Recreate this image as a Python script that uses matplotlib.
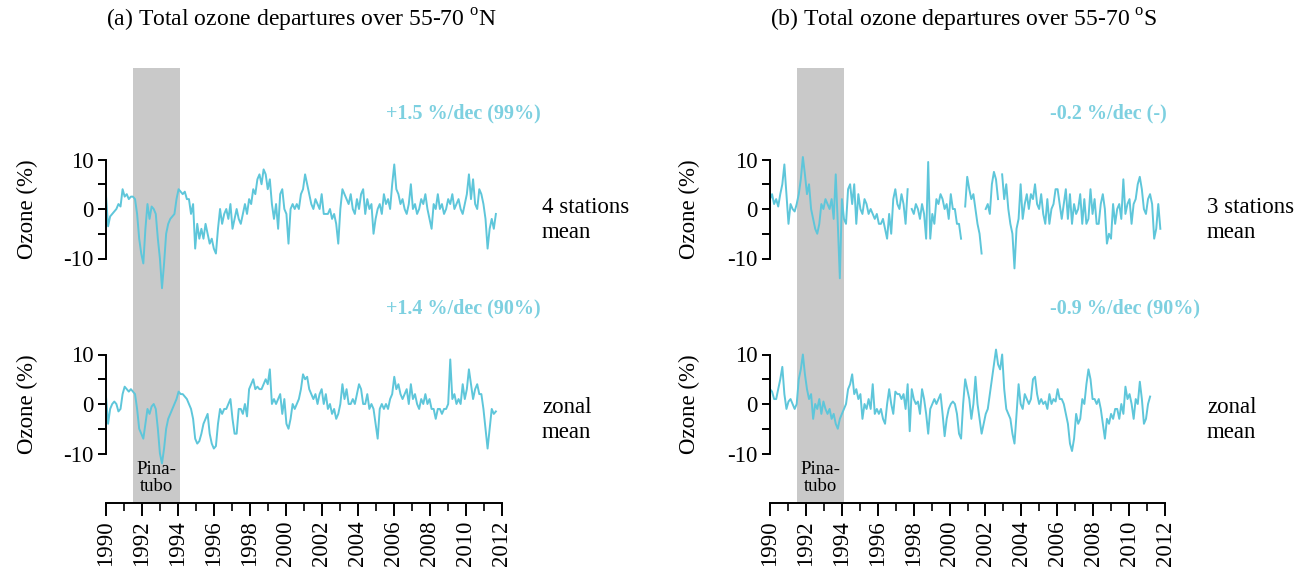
import numpy as np
import matplotlib
matplotlib.use('Agg')
import matplotlib.pyplot as plt

plt.rcParams['font.family'] = ['Liberation Serif', 'DejaVu Serif']
plt.rcParams['mathtext.fontset'] = 'custom'
plt.rcParams['mathtext.rm'] = 'Liberation Serif'
plt.rcParams['axes.unicode_minus'] = False

nan = np.nan

# ozone departures (%), evenly spaced in time
north_stations = [
    2.7, -3.5, -1.5, -1, -0.5, 0, 1, 0.5, 4, 2.5, 3, 2, 2.5, 2.5, 2, -1, -6, -9, -11, -4,
    1, -2, 0.5, 0, -1, -6, -10, -16, -11, -5, -3, -2, -1.5, -1, 2, 4, 3.5, 3, 3.5, 2,
    2, -1, 1, -8, -3, -6, -4, -6, -3, -5, -7, -6, -8, -9, -4, 0, -3, -1, 0, -2,
    1, -4, -2, 0, -2, -3, -1, 1, -1, 2, 1, 4, 3, 6, 7, 5, 8, 7, 4, 6,
    1, -2, 1, -4, 3, 4, 0, -1, -7, 0, 1, 0, 1, 0, 3, 4, 7, 5, 3, 1,
    0, 2, 1, 0, 3, -1, -1, -1, 0, -2, -1, -3, -7, 0, 4, 3, 2, 1, 3, 0,
    -1, 2, 0, 3, 4, -1, 2, 0, 1, -5, -2, 0, 1, -1, 3, 1, 2, 0, 5, 9,
    4, 3, 1, 2, 0, -1, 1, 5, 0, 1, -1, 0, 2, 1, 3, 0, -2, -4, 1, 0,
    3, 0, 1, -1, 0, 2, 1, 3, 0, 1, 2, 0, -1, 1, 3, 7, 2, 6, 1, 0,
    4, 3, 1, -2, -8, -4, -2, -4, -1,
]
north_zonal = [
    1.5, -4, -1, 0, 0.5, 0, -1.5, -1, 2, 3.5, 3, 2.5, 3, 2.5, 2, -1, -5, -6, -7, -4,
    -1, -2, -0.5, 0, -1, -5, -10, -12, -9, -5, -3, -2, -1, 0, 1, 2.5, 2, 2, 1.5, 1,
    0, -1, -3, -7, -8, -7.5, -6, -4, -3, -2, -6, -8, -9, -8.5, -4, -1, -2, -1, -1, 0,
    1, -3, -6, -6, -1, -1, -2, 0, -2.5, 3, 4, 5, 3, 3.5, 3, 3, 4, 5, 4, 7,
    0, 1, 0, 1, 2, -2, 1, -4, -5, -3, 0, -1, 0, 1, 3, 6, 5, 5.5, 3, 2,
    1, 2, 0, 2, 3, 0, 2, -1, 0, -2, -1, -3, -2, 0, 4, 1, 3, 0, 0, 1,
    0, 2, 4, 3, 0, 0, 2, -1, 0, -1, -4, -7, -1, 0, -1, 0, -1, 1, 2, 5.5,
    3, 4, 2, 1, 2, 3, 0, 4, 1, 2, 0, -1, 1, 0, 2, 0, 1, -1, -1, -3,
    -1, -1, -2, -1, -1, 0, 9, 1, 2, 0, 1, 0, 4, 1, 3, 7, 4, 1, 3, 4,
    2, 2, -1, -5, -9, -5, -1, -2, -1.5,
]
south_stations = [
    2, 3, 1, 2, 0.5, 3, 5, 9, 3, -3, 1, 0, -0.5, 1, 3, 6, 10.5, 7, 3, 5,
    0, -2, -4, -5, -3, 1, 0, 2, 1, 0, 2, -2, 7, -3, -14, 2, -2, -3, 4, 5,
    1, 5, -3, 3, 0, -1, 2, 1, -1, 0, -1, -2, -1, -3, -3, -2, -4, -6, -1, -5,
    2, 4, 1, 0, 3, 1, -3, 4, nan, 0, -1, 1, 0, -2, 1, -1, -6, 9.5, -6, -1,
    -3, 2, 1, 3, 2, 0, 1, -2, 3, 0, 0, -3, -3, -6, nan, 0.5, 6.5, 4, 2, 3,
    0, -3, -5, -9, nan, 0, 1, -1, 5, 7.5, 6, 2, nan, 7, 2, 5, 0, -3, -5, -12,
    -4, -2, 5, -2, 1, 3, 0, 3, 2, 5, 1, 0, 3, -1, -3, 2, -3, 0, 1, 4,
    4, 1, -2, 1, 4, -2, 3, -3, 1, -1, 0, 3, -3, 2, -3, -2, 4, -1, 2, -3,
    -3, 1, 3, 0, -7, -5, -6, 1, -3, 0, 1, -2, 6, -1, 1, 2, -3, 1, 2, 5,
    6.5, 4, 0, -1, 2, 3, 1, -6, -4, 1, -4,
]
south_zonal = [
    3, 2.5, 1, 1, 3, 5, 7.5, 2, -1, 0.5, 1, 0, -1, 0, 5, 7, 10, 6, 3, 1,
    2, -3, 0, -1, 1, -2, 0.5, -1, -2, -1, -3, -2, -4, -5, -3, -2, -1, 0, 3, 4,
    6, 2, 3, 1, 2, -3, 0, -1, 1, -1, 4, -2, -1, -2, -1, -3, -4, 0, 3, 0,
    -2, 2.5, 2, 2, 1, 2, -1, 4, -5.5, 3, 1, 0, 0.5, -2, 3, 1, -2, -6, -1, 0,
    1, 0, 1, 2, -2, -6.5, -3, -1, 0, 0.5, 0, -2, -6, -7, 0, 5, 3, 1, -3, 0,
    5.5, 0, -3, -6, -4, -2, -1, 2, 5, 8, 11, 8, 7, 10, 3, -1, -2, -3, -6, -8,
    -2, 4, 0, -1, 2, 1, 0, 1, 5, 5.5, 2, 0, 1, 0, 0.5, -1, 2, 0, 1, 0.5,
    3, 1, 1, 0, -2, -4, -8, -9.5, -7, -2, -4, -3, 1, 0, 4, 7, 5, 1, 1, 0,
    1, -1, -4, -7, -3, -4, -2, -3, -1, -1, -3, 0, -2, 3.5, 1, 2, 0, -3, 1, 0,
    4.5, 1, -4, -3, 0, 1.5,
]
# record spans (decimal years)
north_span = (1990.0, 2011.66)
south_stations_span = (1990.0, 2011.74)
south_zonal_span = (1990.0, 2011.17)
pinatubo = (1991.5, 1994.1)

titles = ['(a) Total ozone departures over 55-70 $^{\\mathrm{o}}$N',
          '(b) Total ozone departures over 55-70 $^{\\mathrm{o}}$S']
trends = [['+1.5 %/dec (99%)', '+1.4 %/dec (90%)'],
          ['-0.2 %/dec (-)', '-0.9 %/dec (90%)']]
side_labels = [['4 stations\nmean', 'zonal\nmean'],
               ['3 stations\nmean', 'zonal\nmean']]

W, H = 1297, 567
fig = plt.figure(figsize=(W / 100, H / 100), dpi=100)
line_color = '#5ec6da'
trend_color = '#7dd0e0'


def fx(px):
    return px / W


def fy(py):
    return 1 - py / H


columns = [
    dict(x0=106, x1=502, ylab=38, side_dx=[40, 40],
         series=[(north_stations, north_span), (north_zonal, north_span)]),
    dict(x0=770, x1=1165, ylab=700, side_dx=[42, 42],
         series=[(south_stations, south_stations_span), (south_zonal, south_zonal_span)]),
]
zero_px = [209, 404]      # pixel row of the 0 line in each row of panels
side_dy = [11, 16]
px_per_unit = 4.95

for c, col in enumerate(columns):
    x0, x1 = col['x0'], col['x1']
    # background axes: shading and time axis
    bg = fig.add_axes([fx(x0), fy(503), fx(x1 - x0), (503 - 68) / H])
    bg.set_xlim(1990, 2012)
    bg.set_ylim(0, 1)
    bg.axvspan(*pinatubo, color='#c9c9c9', lw=0)
    for s in ['left', 'right', 'top']:
        bg.spines[s].set_visible(False)
    bg.spines['bottom'].set_linewidth(1.4)
    bg.set_yticks([])
    bg.set_xticks(np.arange(1990, 2013, 2))
    bg.set_xticks(np.arange(1991, 2012, 2), minor=True)
    bg.tick_params(axis='x', which='major', length=9.5, width=1.4, labelsize=16.5,
                   labelrotation=90, pad=3)
    bg.tick_params(axis='x', which='minor', length=5.5, width=1.2)
    bg.text(np.mean(pinatubo), 0.057, 'Pina-\ntubo', ha='center', va='center',
            fontsize=13.5, linespacing=1.0)

    for r, (vals, span) in enumerate(col['series']):
        top_px, bot_px = zero_px[r] - 105, zero_px[r] + 95
        ax = fig.add_axes([fx(x0), fy(bot_px), fx(x1 - x0), (bot_px - top_px) / H])
        ax.patch.set_visible(False)
        t = np.linspace(span[0], span[1], len(vals))
        ax.plot(t, vals, color=line_color, lw=1.4)
        ax.set_xlim(1990, 2012)
        ax.set_ylim(-(bot_px - zero_px[r]) / px_per_unit, (zero_px[r] - top_px) / px_per_unit)
        for s in ['right', 'top', 'bottom']:
            ax.spines[s].set_visible(False)
        ax.spines['left'].set_bounds(-10, 10)
        ax.spines['left'].set_linewidth(1.4)
        ax.set_xticks([])
        ax.set_yticks([-10, 0, 10])
        ax.set_yticks([-5, 5], minor=True)
        ax.tick_params(axis='y', which='both', length=6, width=1.4, labelsize=16.5, pad=3)
        ax.set_ylabel('Ozone (%)', fontsize=16.5)
        ax.yaxis.set_label_coords((col['ylab'] - x0) / (x1 - x0),
                                  (bot_px - zero_px[r]) / (bot_px - top_px))

        fig.text(fx(x0 + 280), fy(zero_px[r] - 96), trends[c][r], color=trend_color,
                 fontsize=14.5, fontweight='bold', ha='left', va='center')
        fig.text(fx(x1 + col['side_dx'][r]), fy(zero_px[r] + side_dy[r]), side_labels[c][r],
                 fontsize=16.5, ha='left', va='center', linespacing=1.2)

    fig.text(fx(x0), fy(20), titles[c], fontsize=17, ha='left', va='center')

fig.savefig('out.png', dpi=100)
